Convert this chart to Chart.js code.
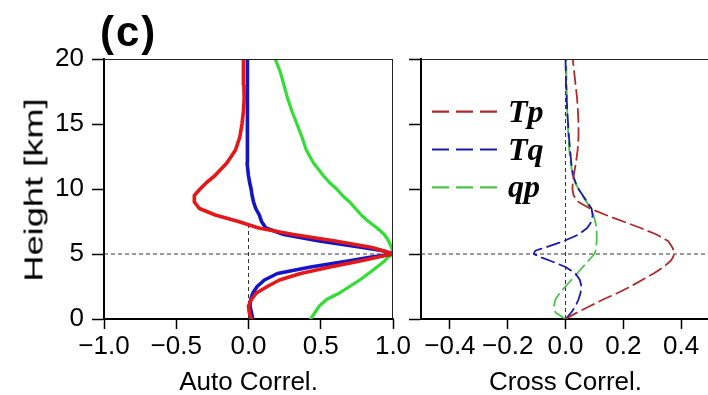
<!DOCTYPE html>
<html>
<head>
<meta charset="utf-8">
<script src="https://cdn.jsdelivr.net/npm/chart.js@4/dist/chart.umd.min.js"></script>
<style>
html,body{margin:0;padding:0;background:#fff;overflow:hidden;width:708px;height:395px;}
#wrap{position:relative;width:708px;height:395px;overflow:hidden;background:#fff;}
#c1{position:absolute;left:0;top:0;}
#c2{position:absolute;left:400px;top:0;}
#title{position:absolute;left:100px;top:11px;font:bold 42px 'Liberation Sans',Arial,sans-serif;line-height:42px;letter-spacing:2px;color:#000;white-space:nowrap;}
#ylab{position:absolute;left:34px;top:190px;font:25px 'Liberation Sans',Arial,sans-serif;line-height:25px;color:#000;white-space:nowrap;transform:translate(-50%,-50%) rotate(-90deg) scaleX(1.45);}
</style>
</head>
<body>
<div id="wrap">
  <canvas id="c1" width="420" height="395" style="width:420px;height:395px"></canvas>
  <canvas id="c2" width="340" height="395" style="width:340px;height:395px"></canvas>
  <div id="title">(c)</div>
  <div id="ylab">Height [km]</div>
</div>
<script>
// ---------- data ----------
const HEIGHTS = [0,0.5,1,1.5,2,2.5,3,3.5,4,4.5,4.75,5,5.25,5.5,6,6.5,7,7.5,8,8.5,9,9.5,10,10.5,11,12,13,14,15,16,17,18,19,20];

// Auto correlation
const AUTO_RED   = [0.02,0.005,0.0,0.02,0.055,0.13,0.215,0.36,0.565,0.79,0.89,1.0,0.93,0.855,0.60,0.31,0.07,-0.07,-0.23,-0.34,-0.375,-0.375,-0.335,-0.29,-0.235,-0.15,-0.09,-0.06,-0.045,-0.035,-0.03,-0.032,-0.035,-0.035];
const AUTO_BLUE  = [0.03,0.02,0.01,0.015,0.03,0.06,0.11,0.2,0.43,0.71,0.84,1.0,0.93,0.79,0.49,0.245,0.12,0.09,0.075,0.05,0.035,0.025,0.018,0.008,0.0,-0.01,-0.01,-0.008,-0.007,-0.007,-0.007,-0.007,-0.007,-0.007];
const AUTO_GREEN = [0.43,0.46,0.49,0.54,0.63,0.70,0.77,0.83,0.89,0.945,0.965,1.0,0.995,0.99,0.97,0.94,0.89,0.83,0.78,0.74,0.70,0.65,0.61,0.56,0.52,0.45,0.40,0.37,0.335,0.30,0.27,0.245,0.22,0.185];

// Cross correlation
const CROSS_TP = [0,0.04,0.085,0.13,0.18,0.225,0.265,0.305,0.34,0.365,0.372,0.376,0.374,0.37,0.355,0.315,0.26,0.2,0.14,0.085,0.045,0.028,0.024,0.025,0.028,0.036,0.042,0.045,0.045,0.043,0.04,0.035,0.03,0.025];
const CROSS_TQ = [0,0.02,0.035,0.045,0.052,0.055,0.05,0.035,0.0,-0.055,-0.085,-0.11,-0.105,-0.07,-0.005,0.045,0.075,0.09,0.094,0.09,0.075,0.06,0.045,0.035,0.027,0.02,0.016,0.012,0.009,0.006,0.004,0.002,0.001,0.0];
const CROSS_QP = [0,-0.035,-0.04,-0.035,-0.02,0.0,0.02,0.04,0.06,0.08,0.09,0.1,0.104,0.106,0.108,0.108,0.107,0.103,0.096,0.085,0.073,0.058,0.045,0.033,0.025,0.018,0.013,0.01,0.008,0.006,0.005,0.004,0.003,0.003];
const CROSS_LABELS = ['Tp','Tq','qp'];

// Reference lines
const REF_HEIGHT = 5;
const LEFT_ZERO_LINE_TOP = 7.3;

// Tick labels
const AUTO_TICKS  = [-1.0,-0.5,0.0,0.5,1.0];
const CROSS_TICKS = [-0.4,-0.2,0.0,0.2,0.4];
const HEIGHT_TICKS = [0,5,10,15,20];

// ---------- helpers ----------
const FONT = "'Liberation Sans', Arial, sans-serif";
const pts = (xs) => xs.map((v,i)=>({x:v, y:HEIGHTS[i]}));
const fmt = (v) => (v < 0 ? '\u2212' : '') + Math.abs(v).toFixed(1);

const framePlugin = {
  id:'frame',
  afterDraw(chart, args, opts){
    const {ctx, chartArea:a} = chart;
    ctx.save();
    ctx.strokeStyle = '#222'; ctx.lineWidth = 1;
    ctx.beginPath();
    ctx.moveTo(a.left, a.top+0.5); ctx.lineTo(a.right, a.top+0.5);
    if (opts.right) { ctx.moveTo(a.right-0.5, a.top); ctx.lineTo(a.right-0.5, a.bottom); }
    ctx.stroke();
    ctx.restore();
  }
};

const dashLegend = {
  id:'dashLegend',
  afterDatasetsDraw(chart, args, opts){
    if (!opts || !opts.enabled) return;
    const {ctx, chartArea:a} = chart;
    const items = chart.data.datasets.filter(d => d.inLegend);
    items.forEach((d,i) => {
      const y = a.top + opts.top + i*opts.spacing;
      ctx.save();
      ctx.strokeStyle = d.borderColor; ctx.lineWidth = 2.2;
      ctx.setLineDash(opts.dash);
      ctx.beginPath();
      ctx.moveTo(a.left+opts.left, y); ctx.lineTo(a.left+opts.left+opts.len, y);
      ctx.stroke();
      ctx.setLineDash([]);
      ctx.fillStyle = '#000';
      ctx.font = opts.font;
      ctx.textBaseline = 'alphabetic';
      ctx.fillText(d.label, a.left+opts.left+opts.len+opts.gap, y+opts.baseline);
      ctx.restore();
    });
  }
};

function xScale(min, max, ticks, title){
  return {
    type:'linear', min, max,
    afterBuildTicks: s => { s.ticks = ticks.map(v => ({value:v})); },
    afterFit: s => { s.height = 76; },
    grid:{drawOnChartArea:false, drawTicks:true, tickLength:10, tickColor:'#000', tickWidth:1.5},
    border:{display:true, color:'#000', width:2},
    ticks:{font:{family:FONT, size:26}, color:'#000', padding:2, maxRotation:0, autoSkip:false, callback: v => fmt(v)},
    title:{display:true, text:title, font:{family:FONT, size:26, lineHeight:0.92}, color:'#000', padding:0}
  };
}
function yScale(width, showLabels){
  return {
    type:'linear', min:0, max:20,
    afterBuildTicks: s => { s.ticks = HEIGHT_TICKS.map(v => ({value:v})); },
    afterFit: s => { s.width = width; },
    grid:{drawOnChartArea:false, drawTicks:true, tickLength:12, tickColor:'#000', tickWidth:1.5},
    border:{display:true, color:'#000', width:2},
    ticks:{font:{family:FONT, size:26}, color:'#000', padding:8, autoSkip:false, callback: v => showLabels ? String(v) : ''}
  };
}
function refLine(data){
  return {data, showLine:true, borderColor:'#333', borderWidth:1, borderDash:[4,3], pointRadius:0, order:10};
}
function curve(label, values, color, width, order, dash){
  return {label, data:pts(values), showLine:true, borderColor:color, borderWidth:width, pointRadius:0,
          tension:0, order, borderDash:dash||[], borderCapStyle:'round', borderJoinStyle:'round', fill:false};
}

const common = {
  responsive:false, animation:false, devicePixelRatio:1,
  events:[],
};

new Chart(document.getElementById('c1'), {
  type:'scatter',
  data:{datasets:[
    refLine([{x:-1,y:REF_HEIGHT},{x:1,y:REF_HEIGHT}]),
    refLine([{x:0,y:0},{x:0,y:LEFT_ZERO_LINE_TOP}]),
    curve('green', AUTO_GREEN, '#33dd33', 3.2, 3),
    curve('blue',  AUTO_BLUE,  '#1414c8', 3.6, 2),
    curve('red',   AUTO_RED,   '#e41818', 3.6, 1)
  ]},
  options:Object.assign({}, common, {
    layout:{padding:{top:59, right:27, left:0, bottom:0}},
    plugins:{legend:{display:false}, tooltip:{enabled:false}, frame:{right:true}},
    scales:{x:xScale(-1,1,AUTO_TICKS,'Auto Correl.'), y:yScale(104,true)}
  }),
  plugins:[framePlugin]
});

const tp = curve(CROSS_LABELS[0], CROSS_TP, '#b02a2a', 1.8, 1, [13,6]); tp.inLegend = true;
const tq = curve(CROSS_LABELS[1], CROSS_TQ, '#1a1aa8', 1.8, 2, [13,6]); tq.inLegend = true;
const qp = curve(CROSS_LABELS[2], CROSS_QP, '#4cc44c', 1.8, 3, [13,6]); qp.inLegend = true;

new Chart(document.getElementById('c2'), {
  type:'scatter',
  data:{datasets:[
    refLine([{x:-0.5,y:REF_HEIGHT},{x:0.5,y:REF_HEIGHT}]),
    refLine([{x:0,y:0},{x:0,y:20}]),
    tp, tq, qp
  ]},
  options:Object.assign({}, common, {
    layout:{padding:{top:59, right:30, left:0, bottom:0}},
    plugins:{legend:{display:false}, tooltip:{enabled:false}, frame:{right:false},
      dashLegend:{enabled:true, top:52.7, spacing:37.8, left:11, len:65, gap:11, baseline:10,
                  dash:[17,7], font:"bold italic 32px 'Liberation Serif', 'Times New Roman', serif"}},
    scales:{x:xScale(-0.5,0.5,CROSS_TICKS,'Cross Correl.'), y:yScale(21,false)}
  }),
  plugins:[framePlugin, dashLegend]
});
</script>
</body>
</html>
